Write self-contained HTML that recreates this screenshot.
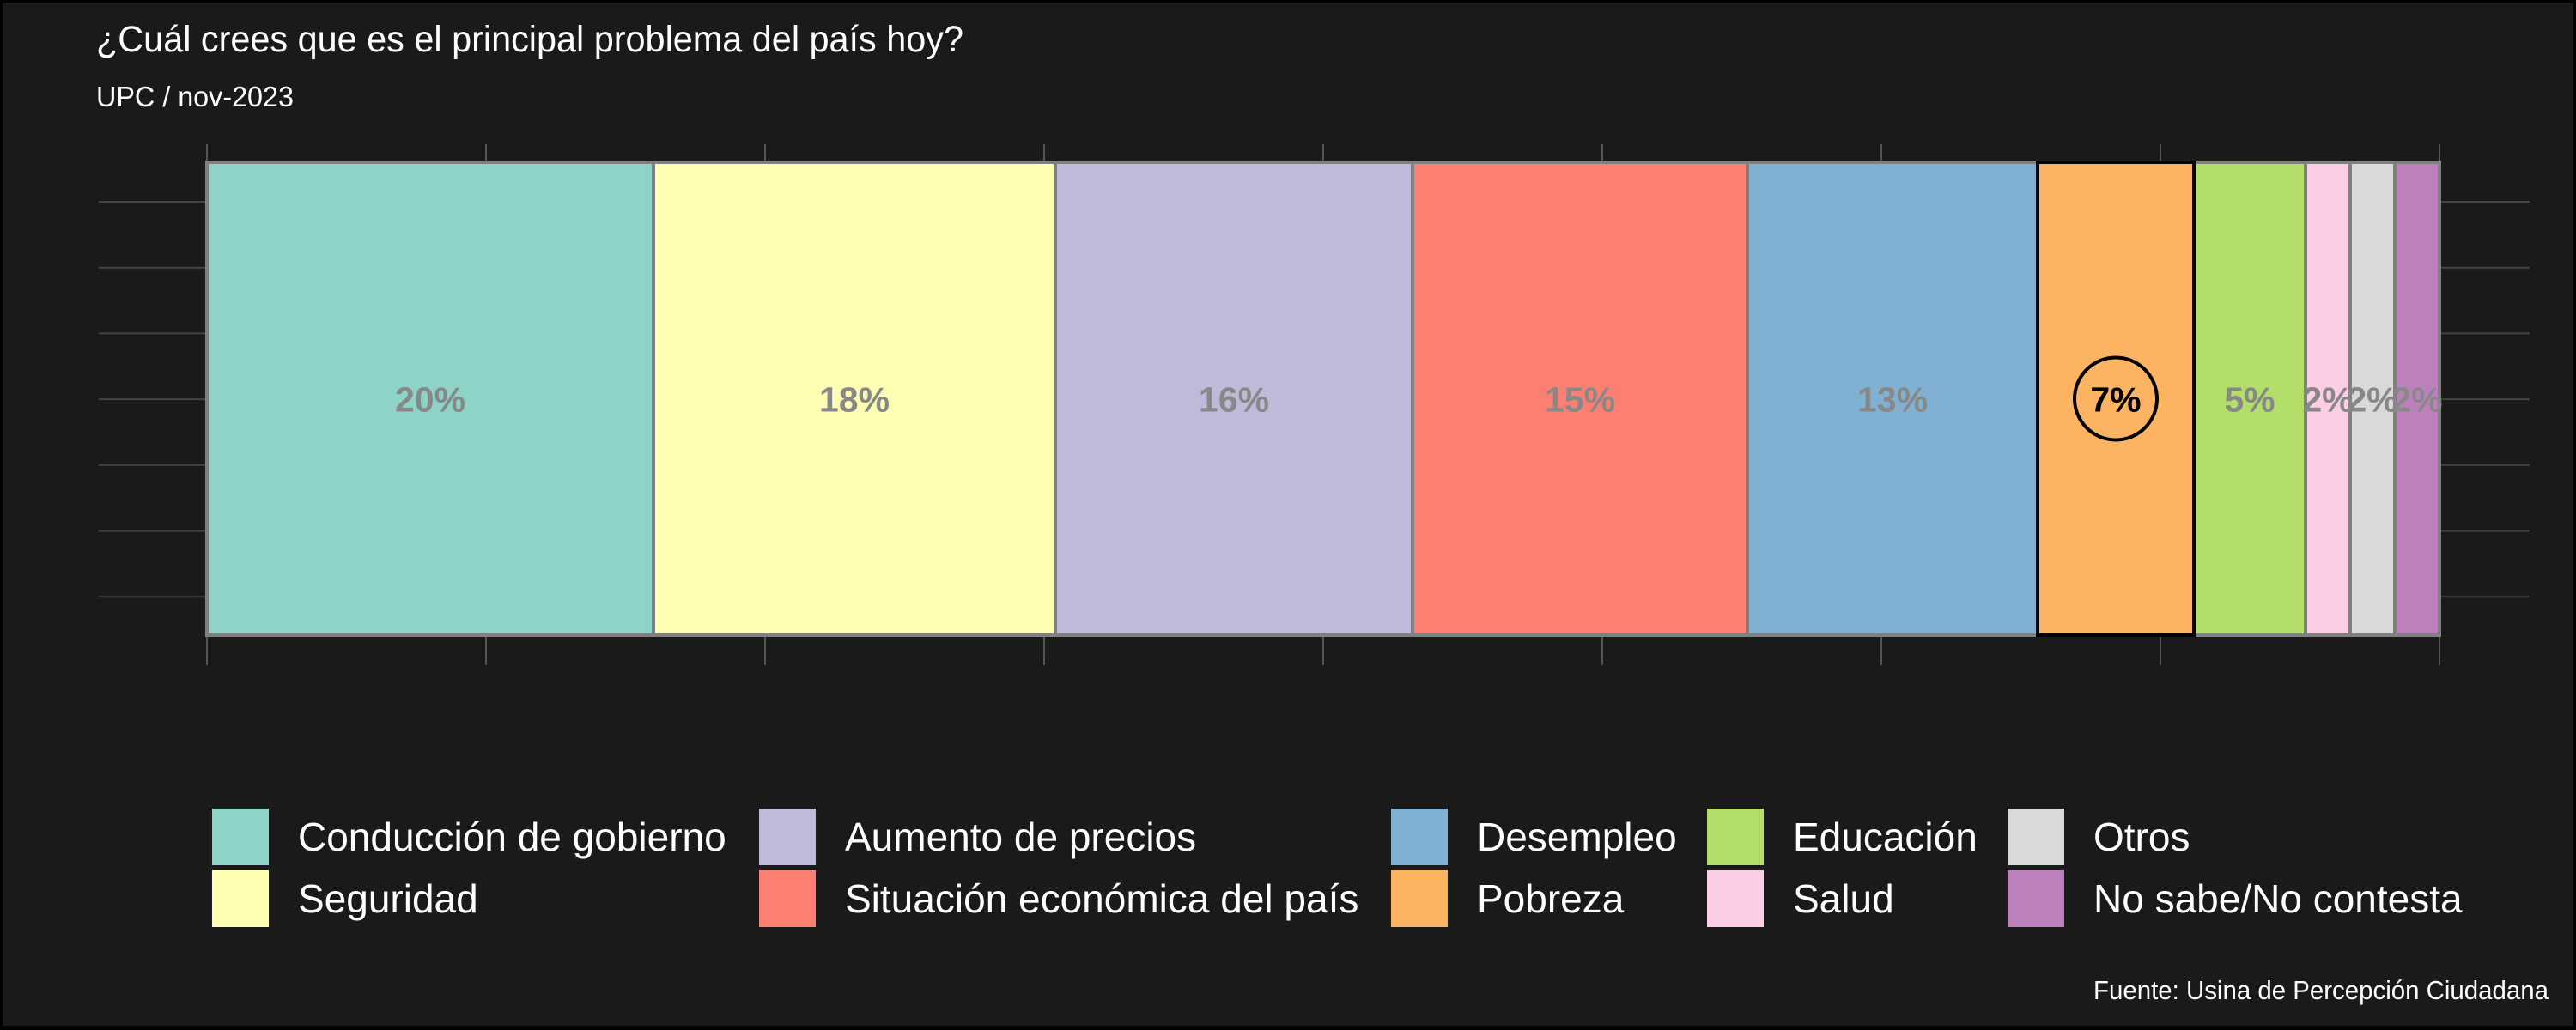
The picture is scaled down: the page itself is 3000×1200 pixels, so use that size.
<!DOCTYPE html>
<html><head><meta charset="utf-8">
<style>
html,body{margin:0;padding:0;background:#000;}
#wrap{width:3000px;height:1200px;position:relative;overflow:hidden;}
svg{display:block;}
</style></head>
<body>
<div id="wrap">
<svg id="chart" width="3000" height="1200" xmlns="http://www.w3.org/2000/svg">
<rect x="3" y="3" width="2994" height="1192" fill="#1a1a1a"/>
<text x="112" y="60" textLength="1010" lengthAdjust="spacingAndGlyphs" font-family="'Liberation Sans',sans-serif" font-size="43" fill="#ffffff">¿Cuál crees que es el principal problema del país hoy?</text>
<text x="112" y="124" textLength="230" lengthAdjust="spacingAndGlyphs" font-family="'Liberation Sans',sans-serif" font-size="33" fill="#ffffff">UPC / nov-2023</text>
<g id="grid"></g>
<g id="bars"></g>
<g id="labels"></g>
<g id="legend"></g>
<text x="2968" y="1164" text-anchor="end" textLength="530" lengthAdjust="spacingAndGlyphs" font-family="'Liberation Sans',sans-serif" font-size="31" fill="#ffffff">Fuente: Usina de Percepción Ciudadana</text>
</svg>
</div>
<script>
const categories = ["Conducción de gobierno","Seguridad","Aumento de precios","Situación económica del país","Desempleo","Pobreza","Educación","Salud","Otros","No sabe/No contesta"];
const values = [20,18,16,15,13,7,5,2,2,2];
const labels = ["20%","18%","16%","15%","13%","7%","5%","2%","2%","2%"];
const colors = ["#8dd3c7","#ffffb3","#bebada","#fb8072","#80b1d3","#fdb462","#b3de69","#fccde5","#d9d9d9","#bc80bd"];
const highlight = "Pobreza";

const NS = "http://www.w3.org/2000/svg";
const X0 = 241, X1 = 2841, Y0 = 189, Y1 = 740;
const total = values.reduce((a,b)=>a+b,0);
const xScale = v => X0 + (X1 - X0) * v / total;
function mk(tag, attrs, parent){const e=document.createElementNS(NS,tag);for(const k in attrs)e.setAttribute(k,attrs[k]);parent.appendChild(e);return e;}

const grid = document.getElementById('grid');
for(let i=0;i<=8;i++){
  const x = X0 + (X1-X0)*i/8;
  const l1 = mk('line',{x1:x,x2:x,y1:168,y2:Y0,stroke:'#555','stroke-width':2},grid);
  
  
  const l2 = mk('line',{x1:x,x2:x,y1:Y1,y2:775,stroke:'#555','stroke-width':2},grid);
  
  
}
for(let j=0;j<7;j++){
  const y = 235 + j*76.7;
  const h = mk('line',{x1:115,x2:2946,y1:y,y2:y,stroke:'#444','stroke-width':2},grid);
  
  
}

const bars = document.getElementById('bars');
const lab = document.getElementById('labels');
let cum = 0;
const yc = (Y0+Y1)/2;
let hiRect = null;
values.forEach((v,i)=>{
  const xa = xScale(cum), xb = xScale(cum+v);
  cum += v;
  const isHi = categories[i]===highlight;
  const r = mk('rect',{x:xa,y:Y0,width:xb-xa,height:Y1-Y0,fill:colors[i],stroke:isHi?'#000':'#808080','stroke-width':4},bars);
  
  
  if(isHi) hiRect = r;
  const cx = (xa+xb)/2;
  if(isHi){
    const c = mk('circle',{cx:cx,cy:yc,r:48,fill:'none',stroke:'#000','stroke-width':4},lab);
    
    
  }
  const t = mk('text',{x:cx,y:yc+15,'text-anchor':'middle','font-family':"'Liberation Sans',sans-serif",'font-weight':'bold','font-size':41,fill:isHi?'#000':'#888'},lab);
  t.textContent = labels[i];
  
  
});
if(hiRect) bars.appendChild(hiRect);

const legend = document.getElementById('legend');
const colX = [247,884,1620,1988,2338];
const rowY = [942,1014];
categories.forEach((c,i)=>{
  const col = Math.floor(i/2), row = i%2;
  const g = mk('g',{},legend);
  
  
  const s = mk('rect',{x:colX[col],y:rowY[row],width:66,height:66,fill:colors[i]},g);
  
  
  const t = mk('text',{x:colX[col]+100,y:rowY[row]+49,'font-family':"'Liberation Sans',sans-serif",'font-size':46,fill:'#fff'},g);
  t.textContent = c;
  
  
});
</script>
</body></html>
